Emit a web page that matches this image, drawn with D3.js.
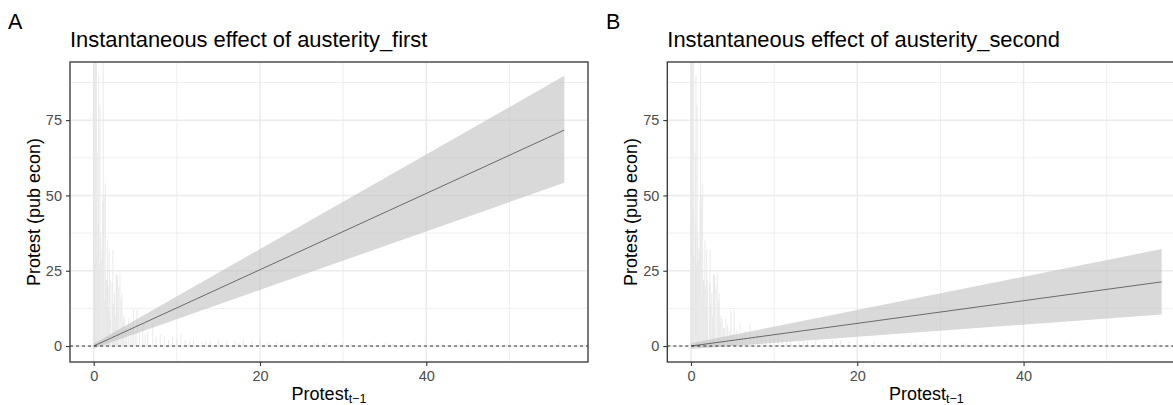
<!DOCTYPE html>
<html>
<head>
<meta charset="utf-8">
<script src="https://cdn.jsdelivr.net/npm/d3@7"></script>
<style>
  body { margin: 0; background: #fff; }
  svg { display: block; font-family: "Liberation Sans", Arial, sans-serif; }
</style>
</head>
<body>
<svg id="chart" width="1173" height="405"></svg>
<script>
// ---- data ----
const panelTags = ["A", "B"];
const panelTitles = ["Instantaneous effect of austerity_first", "Instantaneous effect of austerity_second"];
const xTicks = [0, 20, 40];
const yTicks = [0, 25, 50, 75];
const lineX = [0, 56.6];
const fitFirst = [0, 71.7];
const lowFirst = [-0.8, 54.2];
const highFirst = [0.8, 89.7];
const fitSecond = [0, 21.3];
const lowSecond = [-1.0, 10.5];
const highSecond = [0.9, 32.2];
// spike (frequency) plot of lagged protest
const spikeX = [0, 0.08, 0.12, 0.2, 0.25, 0.33, 0.4, 0.5, 0.55, 0.6, 0.67, 0.75, 0.83, 0.9, 1.0, 1.08, 1.15, 1.25, 1.33, 1.4, 1.5, 1.56, 1.67, 1.72, 1.8, 1.88, 1.96, 2.0, 2.2, 2.3, 2.36, 2.5, 2.6, 2.7, 2.77, 2.84, 3.0, 3.16, 3.3, 3.4, 3.5, 3.6, 3.75, 3.9, 4.0, 4.2, 4.4, 4.6, 4.8, 5.0, 5.2, 5.5, 5.9, 6.2, 6.5, 7.1, 7.5, 8.0, 8.5, 9.0, 9.5, 10.0, 10.5, 11.0, 11.5, 12.0, 13.0, 13.5, 14.0, 15.0, 16.0, 17.0, 17.5, 18.0, 19.0, 20.0, 21.0, 22.0, 23.0, 24.0, 25.0, 26.5, 27.0, 28.0, 30.0, 31.0, 33.0, 35.0, 36.0, 38.0, 40.0, 42.0, 45.0, 48.0, 50.0, 56.0];
const spikeY = [120, 28, 120, 120, 45, 100, 30, 64, 40, 90, 27, 80, 37, 28.5, 32, 48, 120, 50, 15, 54, 22, 22, 35, 20, 12, 32, 22, 9, 21, 32, 14, 17.6, 10, 24, 23.5, 23.5, 19.6, 24, 15, 17.6, 8, 10, 9, 6, 6, 9, 7, 5, 12, 4, 12, 5, 7.6, 4, 5, 7.6, 3, 4, 3, 2, 3, 2.5, 4, 2, 1.5, 2, 1.5, 2, 1.5, 2, 1.5, 2, 1, 2, 1.5, 2, 1, 1.5, 1, 1, 1, 1.2, 1, 1, 1, 0.8, 1, 1, 0.8, 1, 1, 0.8, 1, 0.8, 1, 1];
const xLabel = "Protest";
const xLabelSub = "t\u22121";
const yLabel = "Protest (pub econ)";

// ---- layout ----
const svg = d3.select("#chart");
const panelW = 518, panelTop = 62, panelBottom = 362;
const panels = [
  { left: 70, tagX: 8, fit: fitFirst, low: lowFirst, high: highFirst },
  { left: 667.3, tagX: 606, fit: fitSecond, low: lowSecond, high: highSecond }
];
const xDomain = [-2.85, 59.45];
const yDomain = [-5.3, 94.3];

panels.forEach((p, i) => {
  const x = d3.scaleLinear().domain(xDomain).range([p.left, p.left + panelW]);
  const y = d3.scaleLinear().domain(yDomain).range([panelBottom, panelTop]);
  const g = svg.append("g");
  const clipId = "clip" + i;
  svg.append("clipPath").attr("id", clipId)
    .append("rect").attr("x", p.left).attr("y", panelTop)
    .attr("width", panelW).attr("height", panelBottom - panelTop);

  const inner = g.append("g").attr("clip-path", `url(#${clipId})`);
  // minor grid
  const xMinor = [10, 30, 50];
  const yMinor = [12.5, 37.5, 62.5, 87.5];
  inner.selectAll(".xmin").data(xMinor).join("line")
    .attr("x1", d => x(d)).attr("x2", d => x(d)).attr("y1", panelTop).attr("y2", panelBottom)
    .attr("stroke", "#ebebeb").attr("stroke-width", 0.8);
  inner.selectAll(".ymin").data(yMinor).join("line")
    .attr("y1", d => y(d)).attr("y2", d => y(d)).attr("x1", p.left).attr("x2", p.left + panelW)
    .attr("stroke", "#ebebeb").attr("stroke-width", 0.8);
  // major grid
  inner.selectAll(".xmaj").data(xTicks).join("line")
    .attr("x1", d => x(d)).attr("x2", d => x(d)).attr("y1", panelTop).attr("y2", panelBottom)
    .attr("stroke", "#ebebeb").attr("stroke-width", 1.5);
  inner.selectAll(".ymaj").data(yTicks).join("line")
    .attr("y1", d => y(d)).attr("y2", d => y(d)).attr("x1", p.left).attr("x2", p.left + panelW)
    .attr("stroke", "#ebebeb").attr("stroke-width", 1.5);

  // spikes
  inner.selectAll(".spike").data(spikeX).join("line")
    .attr("x1", d => x(d)).attr("x2", d => x(d))
    .attr("y1", y(0)).attr("y2", (d, k) => y(spikeY[k]))
    .attr("stroke", "#e4e4e4").attr("stroke-width", 0.8);

  // ribbon
  const pts = lineX.map((v, k) => ({ x: v, lo: p.low[k], hi: p.high[k], f: p.fit[k] }));
  inner.append("path").datum(pts)
    .attr("d", d3.area().x(d => x(d.x)).y0(d => y(d.lo)).y1(d => y(d.hi)))
    .attr("fill", "#bfbfbf").attr("fill-opacity", 0.6);
  inner.append("path").datum(pts)
    .attr("d", d3.line().x(d => x(d.x)).y(d => y(d.f)))
    .attr("fill", "none").attr("stroke", "#4d4d4d").attr("stroke-width", 0.8);
  // zero reference
  inner.append("line")
    .attr("x1", p.left).attr("x2", p.left + panelW).attr("y1", y(0)).attr("y2", y(0))
    .attr("stroke", "#000").attr("stroke-width", 0.8).attr("stroke-dasharray", "3,3");

  // border
  g.append("rect").attr("x", p.left).attr("y", panelTop)
    .attr("width", panelW).attr("height", panelBottom - panelTop)
    .attr("fill", "none").attr("stroke", "#333333").attr("stroke-width", 1.3);

  // axes
  const xAxis = g.append("g").attr("transform", `translate(0,${panelBottom})`)
    .call(d3.axisBottom(x).tickValues(xTicks).tickSize(4).tickPadding(5).tickFormat(d3.format("d")));
  const yAxis = g.append("g").attr("transform", `translate(${p.left},0)`)
    .call(d3.axisLeft(y).tickValues(yTicks).tickSize(4).tickPadding(4).tickFormat(d3.format("d")));
  [xAxis, yAxis].forEach(a => {
    a.select(".domain").remove();
    a.selectAll(".tick line").attr("stroke", "#333333").attr("stroke-width", 1.1);
    a.selectAll(".tick text").attr("fill", "#4d4d4d").style("font-size", "14.5px")
      .style("font-family", "Liberation Sans, Arial, sans-serif");
  });

  // titles
  g.append("text").attr("x", p.tagX).attr("y", 29).text(panelTags[i])
    .style("font-size", "21.5px").attr("fill", "#000");
  g.append("text").attr("x", p.left).attr("y", 47).text(panelTitles[i])
    .style("font-size", "21.9px").attr("fill", "#000");
  // x label
  const xl = g.append("text").attr("x", p.left + panelW / 2).attr("y", 400)
    .attr("text-anchor", "middle").style("font-size", "18px").attr("fill", "#000");
  xl.append("tspan").text(xLabel);
  xl.append("tspan").attr("dy", 3).style("font-size", "12.5px").text(xLabelSub);
  // y label
  g.append("text")
    .attr("transform", `translate(${p.left - 30},${(panelTop + panelBottom) / 2}) rotate(-90)`)
    .attr("text-anchor", "middle").style("font-size", "18px").attr("fill", "#000")
    .text(yLabel);
});
</script>
</body>
</html>
